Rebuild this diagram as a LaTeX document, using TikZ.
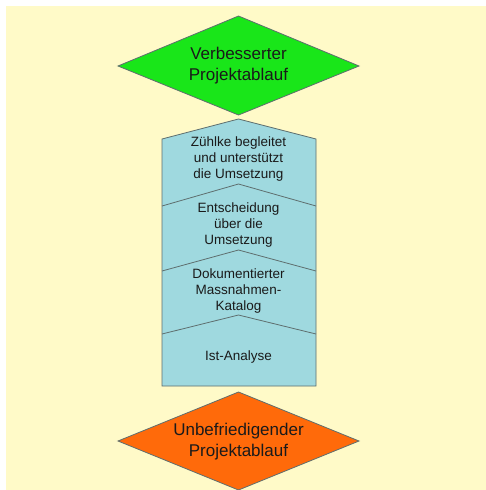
\documentclass[tikz,border=0pt]{standalone}
\usepackage{fontspec}
\setmainfont{Liberation Sans}
\definecolor{bgyellow}{HTML}{FFFAC8}
\definecolor{dgreen}{HTML}{19E619}
\definecolor{dorange}{HTML}{FF6A0A}
\definecolor{colblue}{HTML}{9FD9DF}
\definecolor{edgegray}{HTML}{5E6E6E}
\definecolor{txt}{HTML}{1A1A1A}
\tikzset{
  shapeedge/.style={draw=edgegray, line width=0.8pt, line join=miter},
  divider/.style={draw=edgegray, line width=0.8pt},
  bigtxt/.style={align=center, text=txt, font=\fontsize{17}{21}\selectfont, inner sep=0pt},
  coltxt/.style={align=center, text=txt, font=\fontsize{13.5}{16}\selectfont, inner sep=0pt}
}
\begin{document}
\begin{tikzpicture}[x=1pt,y=-1pt]
\useasboundingbox (0,0) rectangle (486,490);
\fill[bgyellow] (6,6) rectangle (486,490);
% green diamond
\draw[shapeedge, fill=dgreen] (238.5,16) -- (359,66) -- (238.5,115) -- (118,66) -- cycle;
\node[bigtxt] (top) at (238.5,66) {Verbesserter\\Projektablauf};
% column
\draw[shapeedge, fill=colblue] (162,139) -- (238.5,119) -- (316,139) -- (316,386) -- (162,386) -- cycle;
\draw[divider] (162,206) -- (238.5,184) -- (316,206);
\draw[divider] (162,271) -- (238.5,250) -- (316,271);
\draw[divider] (162,334) -- (238.5,315) -- (316,334);
\node[coltxt] (s1) at (238.5,159.5) {Zühlke begleitet\\und unterstützt\\die Umsetzung};
\node[coltxt] (s2) at (238.5,225.5) {Entscheidung\\über die\\Umsetzung};
\node[coltxt] (s3) at (238.5,291) {Dokumentierter\\Massnahmen-\\Katalog};
\node[coltxt] (s4) at (238.5,357) {Ist-Analyse};
% orange diamond
\draw[shapeedge, fill=dorange] (238.5,392) -- (359,441) -- (238.5,490) -- (118,441) -- cycle;
\node[bigtxt] (bottom) at (238.5,442) {Unbefriedigender\\Projektablauf};
\end{tikzpicture}
\end{document}
